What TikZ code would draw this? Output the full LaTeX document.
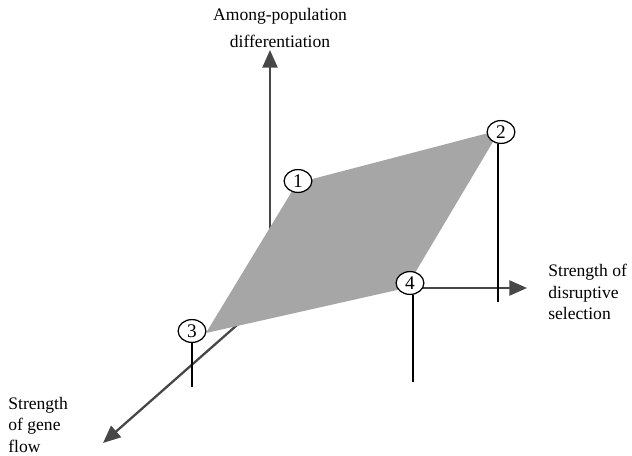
\documentclass[tikz,border=0pt]{standalone}
\usepackage{fontspec}
\setmainfont{Liberation Serif}
\usetikzlibrary{shapes.geometric,arrows.meta}
\begin{document}
\begin{tikzpicture}[x=0.02cm,y=-0.02cm,>={Triangle[length=10pt,width=8.5pt]},
 every node/.style={font=\fontsize{10}{12.2}\selectfont},
 ax/.style={->,line width=1.3pt,draw=black!72},
 pt/.style={ellipse,draw,fill=white,line width=.7pt,minimum width=15.8pt,minimum height=13pt,inner sep=0pt,font=\fontsize{11}{12}\selectfont},
 drop/.style={line width=.6pt}]
\useasboundingbox (0,0) rectangle (632,456);
\coordinate (O) at (270,296);
\coordinate (tipZ) at (270,50);\coordinate (tipX) at (527,288);\coordinate (tipY) at (103,443);
\draw[ax] (O)--(tipZ);
\draw[ax] (O|-tipX)--(tipX);
\draw[ax] (O)--(tipY);
\coordinate (pl1) at (297,183);\coordinate (pl2) at (500,130);
\coordinate (pl3) at (206,333);\coordinate (pl4) at (406,288);
\fill[black!35] (pl3)--(pl1)--(pl2)--(pl4)--cycle;
\node[pt] (p1) at (298,181) {1};
\node[pt] (p2) at (501,132) {2};
\node[pt] (p3) at (192,331) {3};
\node[pt] (p4) at (410,283) {4};
\coordinate (e2) at (498,302);\coordinate (e3) at (192,387);\coordinate (e4) at (413,382);
\draw[drop] (e2|-p2.south)--(e2);
\draw[drop] (e3|-p3.south)--(e3);
\draw[drop] (e4|-p4.south)--(e4);
\node[anchor=north,align=center,inner sep=0pt,font=\fontsize{10}{15.3}\selectfont] (zlab) at (280,8) {Among-population\\differentiation};
\node[anchor=north west,align=left,inner sep=0pt] (xlab) at (548,264) {Strength of\\disruptive\\selection};
\node[anchor=north west,align=left,inner sep=0pt] (ylab) at (8,397) {Strength\\of gene\\flow};
\end{tikzpicture}
\end{document}
